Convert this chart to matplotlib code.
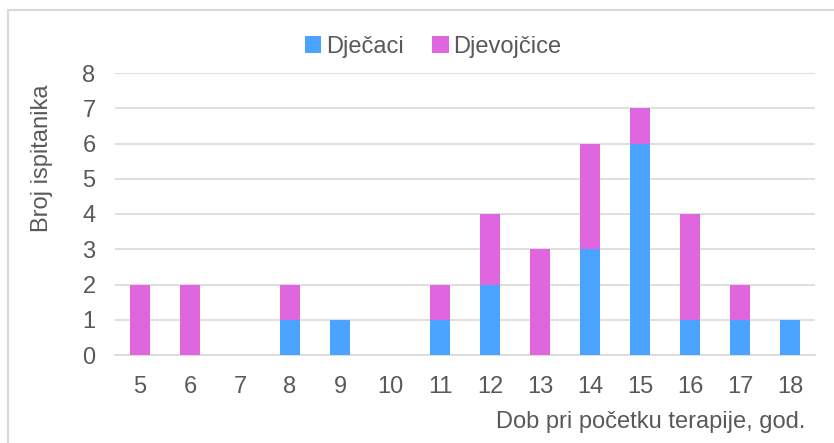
import numpy as np
import matplotlib.pyplot as plt
from matplotlib.patches import Rectangle

plt.rcParams['font.family'] = ['Liberation Sans', 'DejaVu Sans']

ages = ['5', '6', '7', '8', '9', '10', '11', '12', '13', '14', '15', '16', '17', '18']
djecaci = [0, 0, 0, 1, 1, 0, 1, 2, 0, 3, 6, 1, 1, 1]
djevojcice = [2, 2, 0, 1, 0, 0, 1, 2, 3, 3, 1, 3, 1, 0]

c_boys = '#4aa3ff'
c_girls = '#e066e0'
txt = '#595959'
fs = 17

fig = plt.figure(figsize=(8.34, 4.43), dpi=100)
ax = fig.add_axes([115 / 834, 1 - 355 / 443, 700 / 834, 282 / 443])

# okvir oko grafikona (vidljiv samo lijevo i gore)
fig.patches.append(Rectangle((8 / 834, -0.1), 1.2, 1 - 10 / 443 + 0.1,
                             transform=fig.transFigure, fill=False,
                             edgecolor='#d9d9d9', linewidth=1.5))

x = np.arange(len(ages))
w = 0.4
ax.bar(x, djecaci, w, color=c_boys, label='Dječaci', zorder=3)
ax.bar(x, djevojcice, w, bottom=djecaci, color=c_girls, label='Djevojčice', zorder=3)

ax.set_xlim(-0.5, len(ages) - 0.5)
ax.set_ylim(0, 8)
ax.set_yticks(range(0, 9))
ax.set_xticks(x)
ax.set_xticklabels(ages)
ax.grid(axis='y', color='#d9d9d9', linewidth=1.2, zorder=0)
for s in ['top', 'right', 'left']:
    ax.spines[s].set_visible(False)
ax.spines['bottom'].set_color('#d9d9d9')
ax.spines['bottom'].set_linewidth(1.2)
ax.tick_params(length=0, labelsize=fs, labelcolor=txt)
ax.tick_params(axis='x', pad=15)
ax.tick_params(axis='y', pad=14)

fig.text(42 / 834, 1 - 158 / 443, 'Broj ispitanika', fontsize=fs, color=txt,
         rotation=90, ha='center', va='center')
fig.text(805 / 834, 1 - 422 / 443, 'Dob pri početku terapije, god.', fontsize=fs,
         color=txt, ha='right', va='center')

fig.legend(loc='center', bbox_to_anchor=(433 / 834, 1 - 47 / 443), ncol=2, frameon=False,
           fontsize=fs, labelcolor=txt, handlelength=0.7, handleheight=0.7,
           handletextpad=0.2, columnspacing=1.2)

fig.savefig('out.png', dpi=100)
